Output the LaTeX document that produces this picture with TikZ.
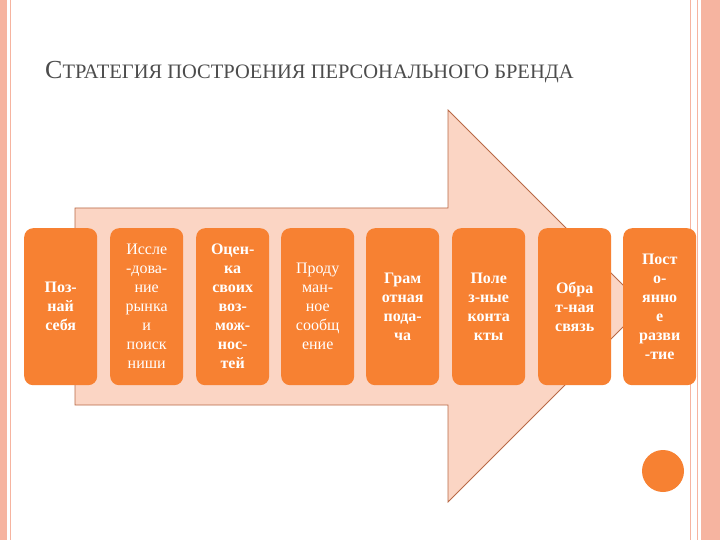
\documentclass[tikz,border=0pt]{standalone}
\usepackage{fontspec}
\setmainfont{Liberation Serif}
\begin{document}
\begin{tikzpicture}[x=1pt,y=-1pt,
  stepbox/.style={draw=none,fill=boxor,rounded corners=9pt,minimum width=73pt,minimum height=157pt,anchor=north west,inner sep=0pt,text=white,align=center,font=\fontsize{16}{19}\selectfont},
  bstep/.style={stepbox,font=\fontsize{16}{19}\selectfont\bfseries}]
\definecolor{boxor}{RGB}{247,129,50}
\definecolor{arrpink}{RGB}{251,213,196}
\definecolor{arredge}{RGB}{185,105,70}
\definecolor{stripe}{RGB}{246,180,160}
\useasboundingbox (0,0) rectangle (720,540);
\fill[white] (0,0) rectangle (720,540);
\fill[stripe] (0,0) rectangle (7,540);
\draw[stripe,line width=1pt] (10,0) -- (10,540);
\draw[stripe,line width=1pt] (690,0) -- (690,540);
\draw[stripe,line width=1pt] (697,0) -- (697,540);
\fill[stripe] (701,0) rectangle (720,540);
\node[anchor=west,text=black!70,font=\fontsize{26}{30}\selectfont,inner sep=0pt] (title) at (45,72) {С\fontsize{20.5}{24}\selectfont ТРАТЕГИЯ ПОСТРОЕНИЯ ПЕРСОНАЛЬНОГО БРЕНДА};
\draw[arredge,fill=arrpink,line width=0.8pt] (75,208) -- (448,208) -- (448,110) -- (644,306) -- (448,502) -- (448,405) -- (75,405) -- cycle;
\node[bstep] (b1) at (24,228) {Поз-\\най\\себя};
\node[stepbox] (b2) at (110,228) {Иссле\\-дова-\\ние\\рынка\\и\\поиск\\ниши};
\node[bstep] (b3) at (196,228) {Оцен-\\ка\\своих\\воз-\\мож-\\нос-\\тей};
\node[stepbox] (b4) at (281,228) {Проду\\ман-\\ное\\сообщ\\ение};
\node[bstep] (b5) at (366,228) {Грам\\отная\\пода-\\ча};
\node[bstep] (b6) at (452,228) {Поле\\з-ные\\конта\\кты};
\node[bstep] (b7) at (538,228) {Обра\\т-ная\\связь};
\node[bstep] (b8) at (623,228) {Пост\\о-\\янно\\е\\разви\\-тие};
\node[circle,fill=boxor,minimum size=42pt,inner sep=0pt] (dot) at (663,471) {};
\end{tikzpicture}
\end{document}
